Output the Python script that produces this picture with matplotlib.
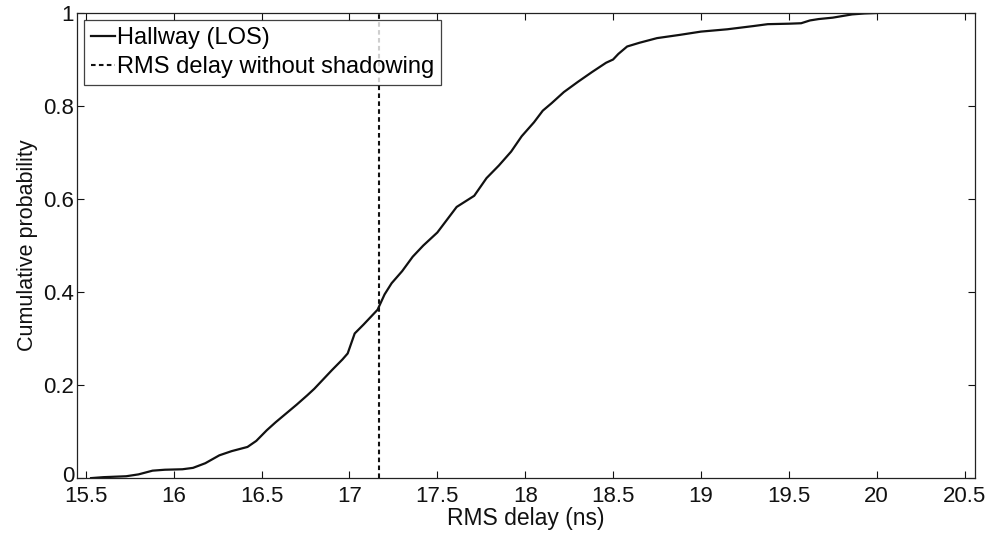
import matplotlib
matplotlib.use("Agg")
import matplotlib.pyplot as plt
import matplotlib.transforms as mtransforms

# CDF of RMS delay, hallway LOS
rms_delay = [15.53, 15.60, 15.73, 15.80, 15.88, 15.95, 16.05, 16.11, 16.18, 16.26,
             16.33, 16.42, 16.47, 16.53, 16.58, 16.64, 16.70, 16.76, 16.80, 16.85,
             16.90, 16.96, 16.99, 17.03, 17.08, 17.16, 17.20, 17.24, 17.30, 17.36,
             17.42, 17.50, 17.56, 17.61, 17.66, 17.71, 17.78, 17.85, 17.92, 17.98,
             18.05, 18.10, 18.15, 18.22, 18.30, 18.38, 18.46, 18.50, 18.53, 18.58,
             18.65, 18.75, 18.88, 19.00, 19.15, 19.30, 19.38, 19.50, 19.57, 19.62,
             19.67, 19.75, 19.86, 19.93, 20.00]
cum_prob = [0.000, 0.002, 0.004, 0.008, 0.016, 0.018, 0.019, 0.022, 0.032, 0.049,
            0.058, 0.067, 0.080, 0.103, 0.120, 0.139, 0.158, 0.178, 0.192, 0.212,
            0.232, 0.255, 0.268, 0.311, 0.330, 0.362, 0.395, 0.419, 0.445, 0.476,
            0.500, 0.528, 0.558, 0.583, 0.595, 0.607, 0.645, 0.672, 0.702, 0.735,
            0.765, 0.790, 0.806, 0.830, 0.852, 0.873, 0.893, 0.900, 0.912, 0.928,
            0.936, 0.946, 0.953, 0.960, 0.965, 0.972, 0.976, 0.977, 0.978, 0.984,
            0.987, 0.990, 0.997, 0.999, 1.000]

# RMS delay without shadowing
rms_no_shadow = 17.17

x_ticks = [15.5, 16, 16.5, 17, 17.5, 18, 18.5, 19, 19.5, 20, 20.5]
x_tick_labels = ["15.5", "16", "16.5", "17", "17.5", "18", "18.5", "19", "19.5", "20", "20.5"]
y_ticks = [0, 0.2, 0.4, 0.6, 0.8, 1]
y_tick_labels = ["0", "0.2", "0.4", "0.6", "0.8", "1"]

plt.rcParams["font.family"] = ["Liberation Sans", "DejaVu Sans"]

fig = plt.figure(figsize=(9.91, 5.33), dpi=100)
ax = fig.add_axes([0.0777, 0.103, 0.9063, 0.8726])

ax.plot(rms_delay, cum_prob, color="#111111", lw=1.6, label="Hallway (LOS)")
ax.axvline(rms_no_shadow, color="#111111", lw=1.5, dashes=(2.2, 1.6),
           label="RMS delay without shadowing")

ax.set_xlim(15.45, 20.56)
ax.set_ylim(0, 1)
ax.set_xticks(x_ticks)
ax.set_xticklabels(x_tick_labels)
ax.set_yticks(y_ticks)
ax.set_yticklabels(y_tick_labels)
ax.tick_params(direction="in", top=True, right=True, length=5, width=0.8,
               labelsize=16, pad=2, colors="#111111")
ax.tick_params(axis="x", pad=6)

# nudge the "0" label up a little so it clears "15.5"
lbl0 = ax.get_yticklabels()[0]
lbl0.set_transform(lbl0.get_transform() +
                   mtransforms.ScaledTranslation(0, 3 / 72, fig.dpi_scale_trans))

for s in ax.spines.values():
    s.set_linewidth(0.9)
    s.set_color("#222222")

ax.set_xlabel("RMS delay (ns)", fontsize=16.5, labelpad=0, color="#111111")
ax.set_ylabel("Cumulative probability", fontsize=15.5, labelpad=4, color="#111111")

leg = ax.legend(loc="upper left", fontsize=17, handlelength=1.0,
                handletextpad=0.08, borderpad=0.3, labelspacing=0.28,
                borderaxespad=0.3, frameon=True, fancybox=False)
leg.get_frame().set_edgecolor("#111111")
leg.get_frame().set_linewidth(0.9)

fig.savefig("out.png", dpi=100)
